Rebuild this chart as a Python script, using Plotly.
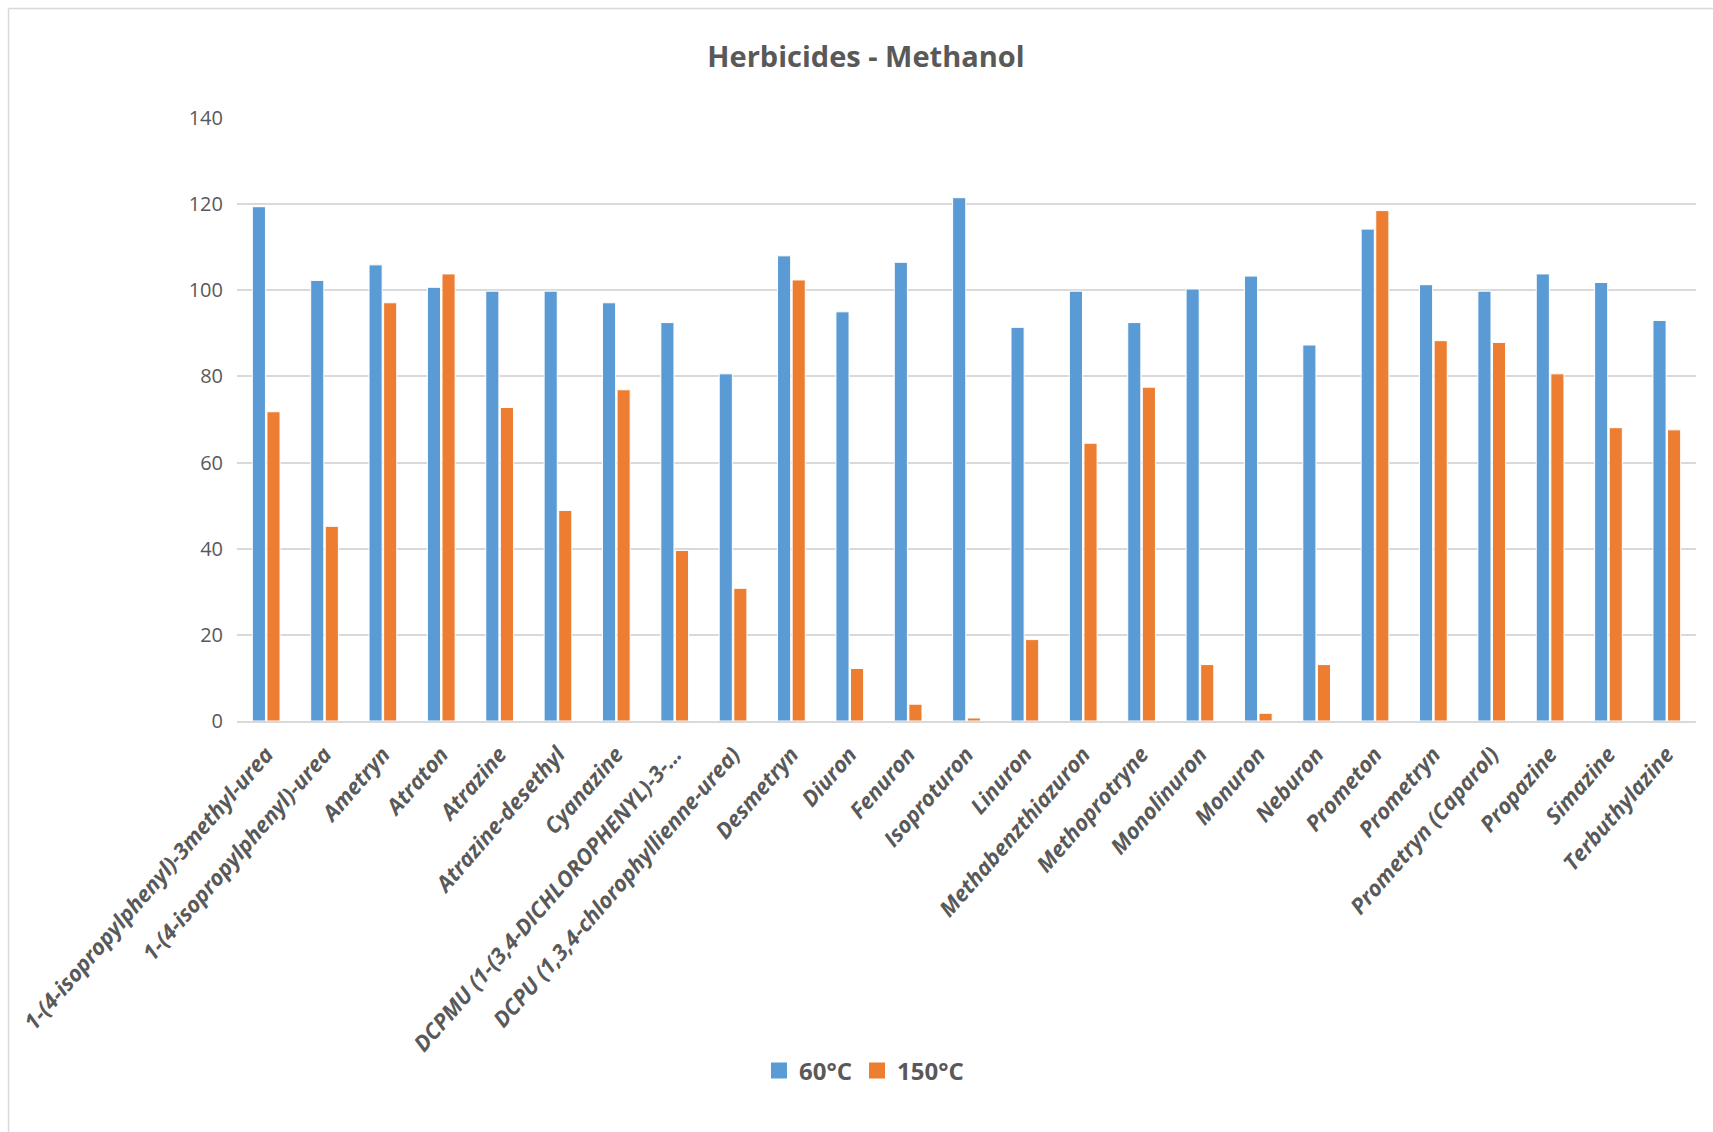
import plotly.graph_objects as go

categories = [
    "1-(4-isopropylphenyl)-3methyl-urea",
    "1-(4-isopropylphenyl)-urea",
    "Ametryn",
    "Atraton",
    "Atrazine",
    "Atrazine-desethyl",
    "Cyanazine",
    "DCPMU (1-(3,4-DICHLOROPHENYL)-3-…",
    "DCPU (1,3,4-chlorophyllienne-urea)",
    "Desmetryn",
    "Diuron",
    "Fenuron",
    "Isoproturon",
    "Linuron",
    "Methabenzthiazuron",
    "Methoprotryne",
    "Monolinuron",
    "Monuron",
    "Neburon",
    "Prometon",
    "Prometryn",
    "Prometryn (Caparol)",
    "Propazine",
    "Simazine",
    "Terbuthylazine",
]

values_60 = [119.4, 102.3, 105.9, 100.7, 99.8, 99.8, 97.1, 92.5, 80.6, 108.0,
             95.0, 106.5, 121.5, 91.4, 99.8, 92.5, 100.3, 103.3, 87.3, 114.2,
             101.3, 99.8, 103.8, 101.8, 93.0]

values_150 = [71.8, 45.2, 97.1, 103.8, 72.8, 48.9, 76.9, 39.6, 30.8, 102.4,
              12.2, 3.9, 0.7, 18.9, 64.5, 77.5, 13.1, 1.8, 13.1, 118.5,
              88.3, 87.9, 80.6, 68.1, 67.6]

series_names = ["60°C", "150°C"]
series_colors = ["#5B9BD5", "#ED7D31"]
y_ticks = [0, 20, 40, 60, 80, 100, 120, 140]

W, H = 1713, 1132
L, R, T, B = 237, 17, 118, 411
pw = W - L - R
ph = H - T - B

font_family = "Open Sans, Liberation Sans, sans-serif"
gray = "#595959"

fig = go.Figure()
for name, vals, col in zip(series_names, [values_60, values_150], series_colors):
    fig.add_trace(go.Bar(x=categories, y=vals, name=name, showlegend=False,
                         marker=dict(color=col, line=dict(color="white", width=1))))
# legend entries with larger square swatches
for name, col in zip(series_names, series_colors):
    fig.add_trace(go.Scatter(x=[None], y=[None], mode="markers", name=name,
                             marker=dict(symbol="square", size=17, color=col),
                             showlegend=True, hoverinfo="skip"))

# chart-area border (only left and top edges are visible in the reference)
bx0 = (8.5 - L) / pw
by1 = (T + ph - 8.5) / ph
fig.add_shape(type="line", xref="paper", yref="paper",
              x0=bx0, x1=bx0, y0=-(H - (T + ph)) / ph, y1=by1,
              line=dict(color="#d9d9d9", width=1.5), layer="below")
fig.add_shape(type="line", xref="paper", yref="paper",
              x0=bx0, x1=(W - L) / pw, y0=by1, y1=by1,
              line=dict(color="#d9d9d9", width=1.5), layer="below")

fig.update_layout(
    width=W, height=H,
    margin=dict(l=L, r=R, t=T, b=B),
    paper_bgcolor="white", plot_bgcolor="white",
    barmode="group", bargap=0.5, bargroupgap=0.1,
    title=dict(text="<b>Herbicides - Methanol</b>", x=(866 - L) / pw, xref="paper",
               xanchor="center", y=1 - 57 / H, yref="container", yanchor="middle",
               font=dict(family=font_family, size=29, color=gray)),
    legend=dict(orientation="h", x=(864 - L) / pw, xanchor="center",
                y=1 - 1071 / H, yref="container", yanchor="middle",
                font=dict(family=font_family, size=24, color=gray, weight="bold"),
                itemwidth=30, traceorder="normal"),
    showlegend=True,
)

fig.update_xaxes(
    tickangle=-49,
    tickfont=dict(family=font_family, size=22, color=gray, style="italic", weight="bold"),
    showgrid=False, showline=True, linecolor="#d9d9d9", linewidth=1.5,
    ticks="", ticklabelstandoff=10, automargin=False,
)
fig.update_yaxes(
    range=[0, 140], tickvals=y_ticks,
    tickfont=dict(family=font_family, size=20, color=gray),
    showgrid=True, gridcolor="#d9d9d9", gridwidth=1.5,
    zeroline=False, showline=False, ticks="", ticklen=0,
    ticklabelstandoff=13, automargin=False,
)

post = ("document.documentElement.style.overflow='hidden';"
        "document.body.style.margin='0';document.body.style.overflow='hidden';")
fig.write_html("out.html", post_script=post, config={"displayModeBar": False})
